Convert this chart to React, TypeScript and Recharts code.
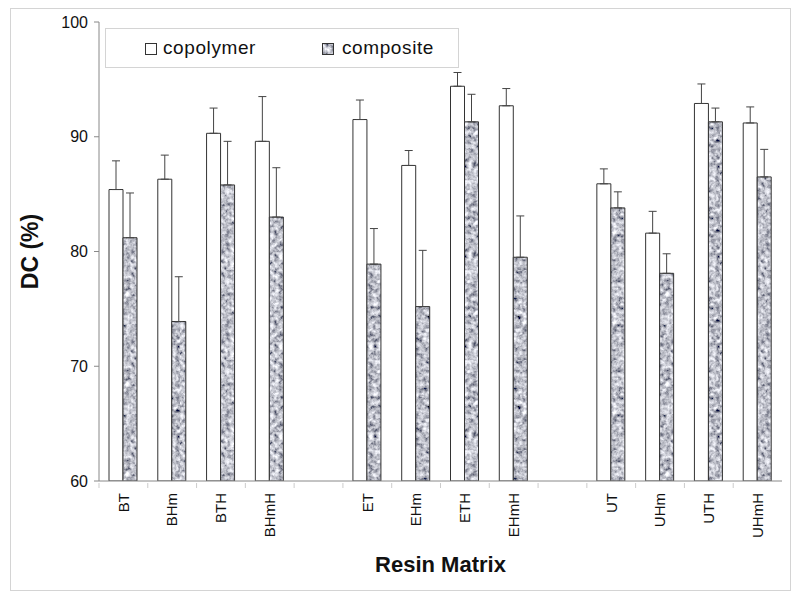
import React from 'react';
import { BarChart, Bar, XAxis, YAxis, ErrorBar, Label } from 'recharts';

// DC values, blanks are the group gaps
const resins = ['BT', 'BHm', 'BTH', 'BHmH', '', 'ET', 'EHm', 'ETH', 'EHmH', '', 'UT', 'UHm', 'UTH', 'UHmH'];
const copolymer = [85.4, 86.3, 90.3, 89.6, null, 91.5, 87.5, 94.4, 92.7, null, 85.9, 81.6, 92.9, 91.2];
const copolymerSd = [2.5, 2.1, 2.2, 3.9, null, 1.7, 1.3, 1.2, 1.5, null, 1.3, 1.9, 1.7, 1.4];
const composite = [81.2, 73.9, 85.8, 83.0, null, 78.9, 75.2, 91.3, 79.5, null, 83.8, 78.1, 91.3, 86.5];
const compositeSd = [3.9, 3.9, 3.8, 4.3, null, 3.1, 4.9, 2.4, 3.6, null, 1.4, 1.7, 1.2, 2.4];
const yTicks = [60, 70, 80, 90, 100];

const data = resins.map((name, i) => ({
  name,
  copolymer: copolymer[i],
  composite: composite[i],
  copolymerErr: copolymerSd[i] == null ? null : [0, copolymerSd[i]],
  compositeErr: compositeSd[i] == null ? null : [0, compositeSd[i]],
}));

const FONT = '"Liberation Sans", Arial, sans-serif';

const ResinTick = (props: any) => {
  const { x, y, payload } = props;
  return (
    <g transform={`translate(${x},${y})`}>
      <line x1={-24.4} x2={-24.4} y1={0} y2={5} stroke="#ccc" />
      <text
        transform="rotate(-90)"
        x={-10}
        y={0}
        dy="0.35em"
        textAnchor="end"
        fontFamily={FONT}
        fontSize={15}
        fill="#111"
      >
        {payload.value}
      </text>
    </g>
  );
};

const App = () => (
  <div style={{ position: 'absolute', left: 0, top: 0, width: 800, height: 597, background: '#fff' }}>
    <div
      style={{
        position: 'absolute',
        left: 10,
        top: 8,
        width: 779,
        height: 581,
        border: '1px solid #d4d4d4',
      }}
    />
    <BarChart
      width={800}
      height={597}
      data={data}
      margin={{ top: 22, right: 18, bottom: 0, left: 0 }}
      barGap={0}
      barSize={14}
      style={{ position: 'absolute', left: 0, top: 0 }}
    >
      <defs>
        <filter id="speckle" x="0" y="0" width="100%" height="100%">
          <feTurbulence type="fractalNoise" baseFrequency="0.22" numOctaves={3} seed={11} />
          <feColorMatrix
            type="matrix"
            values="0.33 0.33 0.33 0 0  0.33 0.33 0.33 0 0  0.33 0.33 0.33 0 0  0 0 0 0 1"
          />
          <feComponentTransfer>
            <feFuncR type="linear" slope={2.6} intercept={-0.76} />
            <feFuncG type="linear" slope={2.6} intercept={-0.75} />
            <feFuncB type="linear" slope={2.6} intercept={-0.69} />
          </feComponentTransfer>
        </filter>
        <pattern id="mottle" patternUnits="userSpaceOnUse" width={90} height={90}>
          <rect width={90} height={90} fill="#aaa" filter="url(#speckle)" />
        </pattern>
      </defs>
      <XAxis
        dataKey="name"
        height={116}
        axisLine={{ stroke: '#888' }}
        tickLine={false}
        tickSize={0}
        interval={0}
        tick={<ResinTick />}
      >
        <Label
          value="Resin Matrix"
          position="insideBottom"
          offset={25}
          style={{ fontFamily: FONT, fontSize: 22, fontWeight: 'bold', fill: '#111' }}
        />
      </XAxis>
      <XAxis xAxisId="top" dataKey="name" orientation="top" height={0} tick={false} tickLine={false} axisLine={{ stroke: '#bbb' }} />
      <YAxis
        domain={[60, 100]}
        ticks={yTicks}
        allowDataOverflow
        width={99}
        axisLine={{ stroke: '#888' }}
        tickLine={{ stroke: '#888' }}
        tickSize={5}
        tickMargin={6}
        tick={{ fontFamily: FONT, fontSize: 16, fill: '#111' }}
      >
        <Label
          value="DC (%)"
          angle={-90}
          position="insideLeft"
          offset={30}
          style={{ textAnchor: 'middle', fontFamily: FONT, fontSize: 23, fontWeight: 'bold', fill: '#111' }}
        />
      </YAxis>
      <YAxis yAxisId="right" orientation="right" width={0} tick={false} tickLine={false} axisLine={{ stroke: '#bbb' }} />
      <Bar dataKey="copolymer" fill="#fff" stroke="#333" strokeWidth={1} isAnimationActive={false}>
        <ErrorBar dataKey="copolymerErr" width={4} stroke="#444" strokeWidth={1} direction="y" />
      </Bar>
      <Bar dataKey="composite" fill="url(#mottle)" stroke="#333" strokeWidth={1} isAnimationActive={false}>
        <ErrorBar dataKey="compositeErr" width={4} stroke="#444" strokeWidth={1} direction="y" />
      </Bar>
    </BarChart>
    <div
      style={{
        position: 'absolute',
        left: 105,
        top: 28,
        width: 352,
        height: 38,
        border: '1px solid #d4d4d4',
        background: '#fff',
        fontFamily: FONT,
        fontSize: 19,
        letterSpacing: 0.6,
        color: '#111',
      }}
    >
      <svg width={13} height={13} style={{ position: 'absolute', left: 39, top: 14 }}>
        <rect x={0.5} y={0.5} width={11} height={11} fill="#fff" stroke="#333" />
      </svg>
      <span style={{ position: 'absolute', left: 57, top: 8 }}>copolymer</span>
      <svg width={13} height={13} style={{ position: 'absolute', left: 216, top: 14 }}>
        <rect x={0.5} y={0.5} width={11} height={11} fill="url(#mottle)" stroke="#333" />
      </svg>
      <span style={{ position: 'absolute', left: 236, top: 8 }}>composite</span>
    </div>
  </div>
);

export default App;
